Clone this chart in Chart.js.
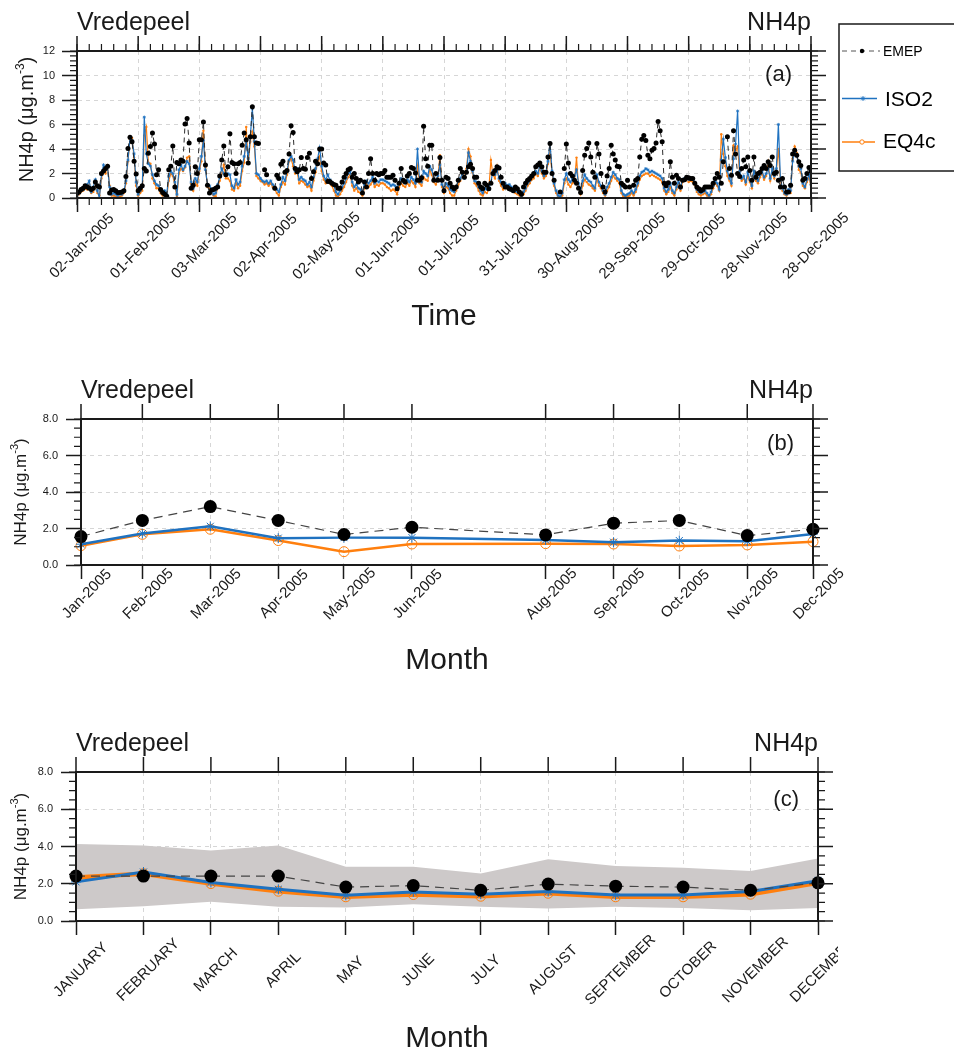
<!DOCTYPE html>
<html lang="en">
<head>
<meta charset="UTF-8" />
<title>Vredepeel NH4p</title>
<script src="https://cdn.jsdelivr.net/npm/chart.js"></script>
<style>
  body { margin: 0; background: #fff; }
  #page { position: relative; width: 954px; height: 1052px; overflow: hidden; background: #fff; }
  canvas { position: absolute; left: 0; }
</style>
</head>
<body>
<div id="page">
  <canvas id="chartA" width="954" height="350" style="top:0"></canvas>
  <canvas id="chartB" width="954" height="340" style="top:350px"></canvas>
  <canvas id="chartC" width="838" height="362" style="top:690px"></canvas>
</div>

<script>
// ---- daily values, 02-Jan-2005 .. 28-Dec-2005 (one row = 10 days)
const emepDaily = [
  0.4, 0.5, 0.7, 0.8, 1.0, 0.9, 0.8, 0.7, 0.8, 1.3,
  1.0, 0.9, 2.0, 2.2, 2.4, 2.6, 0.4, 0.65, 0.7, 0.6,
  0.45, 0.45, 0.5, 0.6, 1.75, 4.05, 4.95, 4.6, 3.0, 1.95,
  0.6, 0.8, 1.0, 2.4, 2.2, 3.65, 4.2, 5.3, 4.4, 1.9,
  2.3, 0.7, 0.45, 0.3, 0.15, 2.3, 2.6, 4.25, 0.9, 2.9,
  2.8, 3.1, 3.0, 6.05, 6.5, 4.5, 0.8, 1.05, 2.55, 2.0,
  4.75, 4.75, 6.2, 2.7, 1.05, 0.4, 0.65, 0.7, 0.8, 0.9,
  1.8, 3.1, 4.25, 1.9, 2.55, 5.25, 2.9, 2.8, 2.0, 2.8,
  2.9, 4.3, 5.3, 4.75, 2.85, 5.0, 7.45, 5.0, 4.5, 4.45,
  null, null, 2.3, 1.9, null, null, null, 0.8, 1.85, 1.6,
  2.75, 3.0, 2.1, 2.25, 3.6, 5.9, 5.35, 2.4, 2.15, 2.3,
  3.3, 2.4, 2.35, 3.3, 3.65, 1.6, 2.15, 3.0, 2.8, 4.0,
  4.0, 2.85, 2.7, 1.35, 1.35, 1.2, 1.1, 1.05, 0.8, 0.8,
  1.3, 1.7, 2.0, 2.3, 2.4, 1.7, 2.0, 1.6, 1.3, 1.45,
  0.4, 1.3, 0.9, 2.0, 3.2, 2.0, 1.45, 2.0, 1.9, 2.0,
  2.0, 2.25, 1.7, 1.7, 1.7, 1.85, 1.45, 0.75, 1.2, 2.4,
  1.45, 1.3, 1.8, 2.0, 2.5, 2.4, 2.05, 1.45, 1.45, 1.65,
  5.85, 3.2, 2.6, 4.3, 4.3, 1.45, 2.0, 1.45, 3.3, 1.45,
  0.6, 1.7, 1.6, 1.2, 0.9, 0.75, 0.9, 1.45, 2.4, 2.1,
  1.7, 2.1, 2.55, 2.75, 2.4, 1.7, 1.7, 1.2, 0.9, 0.75,
  1.2, 1.05, 0.75, 1.2, 2.0, 2.25, 2.55, 2.45, 1.7, 1.2,
  0.9, 0.9, 0.75, 0.7, 0.6, 0.9, 0.75, 0.5, 0.3, 0.9,
  1.2, 1.45, 1.6, 1.8, 2.0, 2.55, 2.7, 2.85, 2.55, 2.1,
  2.1, 3.35, 4.45, 2.0, 1.45, null, null, 0.5, null, 2.4,
  4.4, 2.85, 2.0, 1.8, 1.45, 1.2, 0.8, 0.45, 2.25, 3.5,
  4.05, 4.5, 3.35, 2.1, 1.7, 4.45, 3.6, 2.0, 0.9, 0.5,
  1.8, 2.4, 4.3, 3.6, 3.1, 2.6, 2.55, 1.2, 1.05, 0.9,
  1.45, 0.9, null, 1.05, 1.45, 1.6, 3.35, 4.8, 5.1, 4.7,
  3.5, 3.2, 3.9, 4.05, 4.5, 6.25, 5.5, 4.6, 1.2, 1.0,
  1.25, 2.95, 1.7, 1.2, 1.85, 1.6, 0.9, 1.45, 1.5, 1.7,
  1.65, 1.6, 1.6, 1.2, 0.9, 0.75, 0.6, 0.7, 0.9, 0.9,
  0.9, 0.9, 1.2, 1.6, 2.0, 1.7, 1.2, 2.95, null, 5.0,
  2.4, 1.85, 5.5, 3.6, 2.0, 1.75, 2.4, 3.1, 2.55, 3.35,
  2.25, 1.45, 3.35, 1.7, 2.0, 2.1, 2.4, 2.65, 2.4, 2.95,
  2.65, 3.35, 2.0, 2.1, 1.45, 0.9, 1.6, 0.9, 0.5, 0.5,
  1.05, 3.6, 3.9, 3.5, 2.95, 2.65, 1.45, 1.6, 2.0, 2.5, 2.2
];
const iso2Daily = [
  0.2, 0.4, 0.6, 0.7, 0.9, 1.1, 1.4, 0.5, 0.9, 1.5,
  0.6, 0.0, 1.9, 2.7, 2.3, 2.5, 0.9, 0.3, 0.4, 0.3,
  0.2, 0.3, 0.3, 0.5, 1.4, 3.1, 4.9, 4.7, 3.6, 1.3,
  0.3, 0.6, 0.9, 6.6, 3.6, 2.8, 2.6, 1.9, 1.4, 1.1,
  1.0, 0.7, 0.4, 0.6, 0.3, 1.8, 2.2, 2.0, 1.3, 0.3,
  2.3, 2.7, 2.3, 2.6, 3.0, 2.8, 1.3, 0.8, 1.6, 1.3,
  2.4, 3.4, 4.7, 2.3, 1.1, 1.0, 0.7, 0.3, 0.4, 1.1,
  1.7, 2.4, 2.0, 1.9, 2.0, 1.9, 1.0, 0.8, 1.5, 1.1,
  1.3, 2.6, 3.4, 4.6, 3.2, 5.0, 7.3, 4.6, 2.0, 1.9,
  1.6, 1.4, 1.3, 1.4, 1.2, 1.4, 1.1, 0.9, 0.7, 0.5,
  1.1, 1.7, 1.4, 2.2, 3.1, 3.4, 3.1, 2.2, 2.4, 1.5,
  1.7, 1.5, 1.4, 1.1, 1.3, 0.9, 1.7, 2.4, 3.2, 4.1,
  2.6, 1.8, 1.5, 1.9, 1.5, 1.3, 1.0, 0.5, 0.3, 0.6,
  0.9, 1.2, 1.6, 2.0, 2.2, 1.3, 0.9, 1.1, 0.8, 0.7,
  0.4, 1.1, 1.4, 1.2, 1.4, 1.7, 1.2, 1.4, 1.3, 1.5,
  1.5, 1.4, 1.3, 1.2, 1.0, 1.1, 1.0, 0.8, 1.3, 1.6,
  1.3, 1.2, 1.5, 1.3, 1.7, 1.5, 1.2, 4.0, 1.5, 1.3,
  2.2, 2.0, 1.8, 2.6, 2.3, 1.6, 1.4, 1.8, 2.7, 1.1,
  0.6, 1.2, 1.0, 0.7, 0.6, 0.5, 0.9, 1.4, 1.6, 2.0,
  1.6, 2.1, 3.7, 3.0, 2.2, 1.4, 1.3, 0.9, 0.6, 0.4,
  0.8, 0.7, 0.9, 1.3, 2.2, 1.9, 2.3, 1.6, 1.3, 1.0,
  1.2, 1.0, 1.1, 0.9, 0.7, 0.6, 0.5, 0.4, 0.2, 0.5,
  0.8, 1.2, 1.4, 1.7, 1.9, 2.2, 2.0, 2.6, 2.2, 1.8,
  2.0, 3.0, 4.5, 2.2, 1.2, 0.6, 0.2, 0.1, 0.4, 1.5,
  2.0, 1.5, 1.3, 1.6, 1.8, 2.3, 1.2, 0.5, 1.4, 1.9,
  1.6, 1.4, 1.3, 1.0, 0.8, 1.9, 1.3, 1.0, 0.6, 0.3,
  0.9, 1.2, 1.7, 2.1, 1.9, 1.6, 1.5, 0.6, 0.3, 0.2,
  0.3, 0.4, 0.6, 0.4, 0.7, 1.2, 1.8, 2.1, 2.2, 2.4,
  2.3, 2.1, 2.2, 2.1, 2.0, 1.9, 1.8, 1.6, 0.8, 0.5,
  0.7, 1.2, 0.6, 0.4, 0.9, 1.3, 0.8, 1.5, 1.6, 1.7,
  1.5, 1.6, 1.5, 1.3, 0.7, 0.5, 0.4, 0.5, 0.6, 0.4,
  0.2, 0.5, 1.0, 1.4, 1.2, 0.7, 3.1, 4.8, 3.3, 2.2,
  1.6, 1.2, 3.2, 4.4, 7.1, 2.2, 1.6, 1.8, 1.3, 2.1,
  1.5, 1.0, 2.2, 1.6, 1.4, 1.9, 2.2, 1.7, 2.0, 2.4,
  1.6, 2.4, 1.8, 2.4, 6.0, 1.6, 0.8, 0.4, 0.3, 0.7,
  0.6, 3.0, 3.8, 3.5, 2.6, 2.4, 1.2, 0.9, 1.5, 1.9, 1.1
];
const eq4cDaily = [
  0.1, 0.3, 0.5, 0.6, 0.8, 0.7, 1.1, 0.4, 0.5, 1.2,
  0.4, 0.2, 1.6, 2.3, 2.0, 2.6, 1.0, 0.2, 0.2, 0.1,
  0.1, 0.1, 0.2, 0.4, 1.2, 3.0, 4.8, 4.9, 3.3, 1.0,
  0.2, 0.4, 0.6, 5.1, 5.8, 2.9, 2.8, 1.6, 1.2, 0.8,
  0.8, 0.4, 0.2, 0.3, 0.1, 1.4, 2.0, 1.8, 1.0, 0.1,
  2.0, 2.4, 2.2, 2.5, 3.3, 3.4, 1.2, 0.6, 1.3, 1.0,
  2.2, 3.0, 5.5, 2.5, 0.9, 0.8, 0.5, 0.2, 0.1, 0.9,
  1.4, 2.0, 2.7, 1.6, 1.6, 1.4, 0.7, 0.6, 1.2, 0.8,
  1.0, 2.2, 2.9, 5.8, 2.8, 4.6, 5.4, 4.2, 1.8, 1.6,
  1.4, 1.3, 1.1, 1.2, 1.0, 1.2, 0.9, 0.7, 0.4, 0.2,
  0.9, 1.3, 1.1, 1.9, 3.0, 3.2, 2.6, 2.0, 2.1, 1.2,
  1.4, 1.3, 1.1, 0.9, 1.0, 0.6, 1.4, 2.1, 2.9, 3.4,
  2.2, 1.5, 1.2, 1.5, 1.2, 1.0, 0.6, 0.2, 0.1, 0.3,
  0.6, 0.9, 1.3, 1.7, 1.9, 1.0, 0.6, 0.8, 0.5, 0.4,
  0.2, 0.8, 1.1, 0.9, 1.1, 1.4, 0.9, 1.1, 1.0, 1.2,
  1.2, 1.1, 0.9, 0.8, 0.6, 0.7, 0.6, 0.3, 0.9, 1.2,
  1.0, 0.9, 1.2, 1.0, 1.4, 1.2, 0.9, 2.6, 1.2, 1.0,
  1.7, 1.5, 1.4, 2.3, 1.9, 1.3, 1.1, 1.6, 3.5, 0.9,
  0.4, 0.9, 0.8, 0.4, 0.2, 0.2, 0.6, 1.1, 1.4, 1.9,
  1.7, 2.4, 4.0, 3.4, 2.1, 1.2, 1.0, 0.6, 0.3, 0.2,
  0.5, 0.4, 0.7, 3.1, 1.9, 1.6, 2.6, 1.4, 1.0, 0.7,
  0.9, 0.8, 0.9, 0.7, 0.5, 0.4, 0.3, 0.2, 0.1, 0.3,
  0.6, 1.0, 1.2, 1.5, 1.6, 2.0, 1.8, 2.4, 2.0, 1.6,
  1.8, 2.8, 3.8, 2.0, 1.0, 0.4, 0.1, 0.1, 0.2, 1.2,
  1.6, 1.1, 0.9, 1.2, 1.4, 3.3, 0.9, 0.3, 1.0, 1.5,
  1.3, 1.1, 1.0, 0.8, 0.6, 1.6, 1.0, 0.8, 0.4, 0.2,
  0.6, 0.9, 1.4, 1.8, 1.6, 1.4, 1.2, 0.4, 0.1, 0.1,
  0.1, 0.2, 0.4, 0.2, 0.5, 1.0, 1.5, 1.8, 1.9, 2.0,
  2.0, 1.8, 1.9, 1.8, 1.7, 1.6, 1.5, 1.3, 0.6, 0.3,
  0.5, 0.9, 0.4, 0.2, 0.7, 1.1, 0.6, 1.3, 1.4, 1.5,
  1.3, 1.4, 1.3, 1.1, 0.5, 0.3, 0.2, 0.3, 0.4, 0.2,
  0.1, 0.3, 0.8, 1.2, 1.0, 0.6, 5.2, 3.6, 2.6, 1.8,
  1.4, 1.0, 4.3, 3.9, 4.2, 2.0, 1.4, 1.6, 1.1, 1.8,
  1.3, 0.8, 2.0, 1.4, 1.2, 1.7, 2.0, 1.5, 1.8, 2.9,
  1.4, 2.2, 1.6, 2.2, 4.0, 1.4, 0.6, 0.3, 0.2, 0.5,
  0.4, 3.2, 4.2, 3.7, 2.3, 2.1, 1.0, 0.8, 1.3, 1.7, 0.9
];
const dayTickLabels = ['02-Jan-2005', '01-Feb-2005', '03-Mar-2005', '02-Apr-2005', '02-May-2005',
  '01-Jun-2005', '01-Jul-2005', '31-Jul-2005', '30-Aug-2005', '29-Sep-2005', '29-Oct-2005',
  '28-Nov-2005', '28-Dec-2005'];

// ---- monthly means 2005 (no July value), x = day of year
const monthDays = [15, 43, 74, 105, 135, 166, 227, 258, 288, 319, 349];
const monthLabels = ['Jan-2005', 'Feb-2005', 'Mar-2005', 'Apr-2005', 'May-2005', 'Jun-2005',
  'Aug-2005', 'Sep-2005', 'Oct-2005', 'Nov-2005', 'Dec-2005'];
const emepMonthly = [1.56, 2.44, 3.2, 2.44, 1.67, 2.07, 1.65, 2.29, 2.44, 1.61, 1.96];
const iso2Monthly = [1.14, 1.72, 2.12, 1.47, 1.5, 1.5, 1.37, 1.25, 1.34, 1.3, 1.7];
const eq4cMonthly = [1.06, 1.68, 1.96, 1.34, 0.73, 1.15, 1.17, 1.15, 1.04, 1.1, 1.28];

// ---- monthly climatology
const monthNames = ['JANUARY', 'FEBRUARY', 'MARCH', 'APRIL', 'MAY', 'JUNE', 'JULY', 'AUGUST',
  'SEPTEMBER', 'OCTOBER', 'NOVEMBER', 'DECEMBER'];
const emepClim = [2.41, 2.41, 2.41, 2.41, 1.82, 1.9, 1.65, 1.98, 1.87, 1.82, 1.65, 2.05];
const iso2Clim = [2.1, 2.63, 2.07, 1.7, 1.38, 1.56, 1.44, 1.58, 1.4, 1.4, 1.58, 2.16];
const eq4cClim = [2.34, 2.54, 2.01, 1.6, 1.3, 1.42, 1.33, 1.49, 1.3, 1.3, 1.44, 2.05];
const bandHigh = [4.14, 4.06, 3.78, 4.06, 2.91, 2.91, 2.55, 3.31, 2.95, 2.86, 2.68, 3.35];
const bandLow = [0.63, 0.79, 1.03, 0.76, 0.72, 0.9, 0.76, 0.67, 0.76, 0.7, 0.58, 0.7];

const FONT = '"Liberation Sans", Arial, Helvetica, sans-serif';
const INK = '#1a1a1a';
const BLUE = '#1f72c0';
const ORANGE = '#ff7f0e';
const GRID = '#d6d6d6';
const BAND = '#cdc9c9';

Chart.defaults.font.family = FONT;
Chart.defaults.color = INK;

function drawYTitle(ctx, x, y, size) {
  const main = 'NH4p (\u03bcg.m', sup = '-3', tail = ')';
  const supSize = Math.round(size * 0.62);
  ctx.save();
  ctx.translate(x, y);
  ctx.rotate(-Math.PI / 2);
  ctx.textAlign = 'left';
  ctx.textBaseline = 'alphabetic';
  ctx.font = size + 'px ' + FONT;
  const w1 = ctx.measureText(main).width;
  const w3 = ctx.measureText(tail).width;
  ctx.font = supSize + 'px ' + FONT;
  const w2 = ctx.measureText(sup).width;
  const sx = -(w1 + w2 + w3) / 2;
  ctx.font = size + 'px ' + FONT;
  ctx.fillText(main, sx, 0);
  ctx.fillText(tail, sx + w1 + w2, 0);
  ctx.font = supSize + 'px ' + FONT;
  ctx.fillText(sup, sx + w1, -size * 0.45);
  ctx.restore();
}

function drawLegend(ctx) {
  ctx.save();
  ctx.strokeStyle = INK;
  ctx.lineWidth = 1.5;
  ctx.strokeRect(839, 24, 130, 147);
  ctx.textAlign = 'left';
  ctx.textBaseline = 'alphabetic';
  // EMEP
  ctx.strokeStyle = '#555';
  ctx.lineWidth = 1;
  ctx.setLineDash([5, 4]);
  ctx.beginPath(); ctx.moveTo(842, 51); ctx.lineTo(880, 51); ctx.stroke();
  ctx.setLineDash([]);
  ctx.fillStyle = '#000';
  ctx.beginPath(); ctx.arc(862, 51, 2.2, 0, Math.PI * 2); ctx.fill();
  ctx.font = '14px ' + FONT;
  ctx.fillText('EMEP', 883, 56);
  // ISO2
  ctx.strokeStyle = BLUE;
  ctx.lineWidth = 1.5;
  ctx.beginPath(); ctx.moveTo(842, 98.5); ctx.lineTo(877, 98.5); ctx.stroke();
  ctx.lineWidth = 0.9;
  ctx.beginPath();
  for (let k = 0; k < 4; k++) {
    const ang = k * Math.PI / 4;
    ctx.moveTo(863 - 2.5 * Math.cos(ang), 98.5 - 2.5 * Math.sin(ang));
    ctx.lineTo(863 + 2.5 * Math.cos(ang), 98.5 + 2.5 * Math.sin(ang));
  }
  ctx.stroke();
  ctx.font = '21px ' + FONT;
  ctx.fillText('ISO2', 885, 106);
  // EQ4c
  ctx.strokeStyle = ORANGE;
  ctx.lineWidth = 1.5;
  ctx.beginPath(); ctx.moveTo(842, 142); ctx.lineTo(875, 142); ctx.stroke();
  ctx.lineWidth = 1;
  ctx.fillStyle = '#fff';
  ctx.beginPath(); ctx.arc(862, 142, 2.2, 0, Math.PI * 2); ctx.fill(); ctx.stroke();
  ctx.fillStyle = '#000';
  ctx.fillText('EQ4c', 883, 148);
  ctx.restore();
}

const framePlugin = {
  id: 'frame',
  afterDraw(chart, args, o) {
    const ctx = chart.ctx, a = chart.chartArea;
    const xs = chart.scales.x, ys = chart.scales.y;
    ctx.save();
    ctx.strokeStyle = INK;
    // major ticks on top and right
    ctx.lineWidth = 1.5;
    ctx.beginPath();
    xs.ticks.forEach(t => {
      const p = xs.getPixelForValue(t.value);
      ctx.moveTo(p, a.top); ctx.lineTo(p, a.top - 15);
    });
    ys.ticks.forEach(t => {
      const p = ys.getPixelForValue(t.value);
      ctx.moveTo(a.right, p); ctx.lineTo(a.right + 15, p);
    });
    ctx.stroke();
    // minor ticks
    ctx.lineWidth = 1.2;
    ctx.beginPath();
    const ny = Math.round((ys.max - ys.min) / o.yMinor);
    for (let k = 0; k <= ny; k++) {
      const p = ys.getPixelForValue(ys.min + k * o.yMinor);
      ctx.moveTo(a.left - 7, p); ctx.lineTo(a.left, p);
      ctx.moveTo(a.right, p); ctx.lineTo(a.right + 7, p);
    }
    if (o.xMinor) {
      const nx = Math.round((xs.max - xs.min) / o.xMinor);
      for (let k = 0; k <= nx; k++) {
        const p = xs.getPixelForValue(xs.min + k * o.xMinor);
        ctx.moveTo(p, a.top - 7); ctx.lineTo(p, a.top);
        ctx.moveTo(p, a.bottom); ctx.lineTo(p, a.bottom + 7);
      }
    }
    ctx.stroke();
    ctx.lineWidth = 2;
    ctx.strokeRect(a.left, a.top, a.right - a.left, a.bottom - a.top);

    // rotated x tick labels
    ctx.fillStyle = INK;
    ctx.font = o.xFont + 'px ' + FONT;
    ctx.textAlign = 'center';
    ctx.textBaseline = 'middle';
    xs.ticks.forEach((t, i) => {
      const p = xs.getPixelForValue(t.value);
      ctx.save();
      ctx.translate(p + o.xDx, a.bottom + o.xDy);
      ctx.rotate(-Math.PI / 4);
      ctx.fillText(o.xLabels[i], 0, 0);
      ctx.restore();
    });

    // station / species / panel letter
    ctx.textBaseline = 'alphabetic';
    ctx.font = '25px ' + FONT;
    ctx.textAlign = 'left';
    ctx.fillText('Vredepeel', a.left, a.top - 21);
    ctx.textAlign = 'right';
    ctx.fillText('NH4p', a.right, a.top - 21);
    ctx.font = '22px ' + FONT;
    ctx.fillText(o.letter, a.right - 19, a.top + o.letterDy);

    // axis titles
    ctx.font = '30px ' + FONT;
    ctx.textAlign = 'center';
    ctx.fillText(o.xTitle, (a.left + a.right) / 2, o.xTitleY);
    drawYTitle(ctx, o.yTitleX, (a.top + a.bottom) / 2 + o.yTitleDy, o.yTitleSize);

    if (o.legend) drawLegend(ctx);
    ctx.restore();
  }
};

function axisX(extra) {
  return Object.assign({
    grid: { color: GRID, lineWidth: 1, tickColor: INK, tickLength: 14, tickWidth: 1.5 },
    border: { color: INK, width: 2, dash: [4, 4] },
    afterFit: s => { s.height = 20; }
  }, extra);
}
function axisY(extra) {
  return Object.assign({
    grid: { color: GRID, lineWidth: 1, tickColor: INK, tickLength: 15, tickWidth: 1.5 },
    border: { color: INK, width: 2, dash: [4, 4] },
    afterFit: s => { s.width = 60; }
  }, extra);
}

// ---- (a) daily series
new Chart(document.getElementById('chartA'), {
  type: 'line',
  data: {
    datasets: [
      { label: 'EMEP', data: emepDaily.map((v, i) => ({ x: i, y: v })),
        borderColor: '#2b2b2b', borderWidth: 1, borderDash: [5, 4],
        pointRadius: 2.5, pointBackgroundColor: '#000', pointBorderWidth: 0 },
      { label: 'ISO2', data: iso2Daily.map((v, i) => ({ x: i, y: v })),
        borderColor: BLUE, borderWidth: 1.2, pointStyle: 'star', pointRadius: 1.6,
        pointBorderColor: BLUE, pointBorderWidth: 0.8 },
      { label: 'EQ4c', data: eq4cDaily.map((v, i) => ({ x: i, y: v })),
        borderColor: ORANGE, borderWidth: 1.2, pointRadius: 1.2,
        pointBackgroundColor: ORANGE, pointBorderWidth: 0 }
    ]
  },
  options: {
    responsive: false,
    animation: false,
    layout: { padding: { left: 17, right: 143, top: 51, bottom: 132 } },
    plugins: {
      legend: { display: false },
      tooltip: { enabled: false },
      frame: { yMinor: 0.4, xMinor: 6, xFont: 15, xDx: 5, xDy: 48, xLabels: dayTickLabels,
        letter: '(a)', letterDy: 30, xTitle: 'Time', xTitleY: 325,
        yTitleX: 33, yTitleDy: -5, yTitleSize: 20, legend: true }
    },
    scales: {
      x: axisX({ type: 'linear', min: 0, max: 360, ticks: { stepSize: 30, display: false } }),
      y: axisY({ min: 0, max: 12, ticks: { stepSize: 2, padding: 7, color: INK, font: { size: 11 } } })
    }
  },
  plugins: [framePlugin]
});

// ---- (b) monthly means
new Chart(document.getElementById('chartB'), {
  type: 'line',
  data: {
    datasets: [
      { label: 'EMEP', data: emepMonthly.map((v, i) => ({ x: monthDays[i], y: v })),
        borderColor: '#444', borderWidth: 1.2, borderDash: [9, 6], clip: false,
        pointRadius: 6.5, pointBackgroundColor: '#000', pointBorderWidth: 0 },
      { label: 'ISO2', data: iso2Monthly.map((v, i) => ({ x: monthDays[i], y: v })),
        borderColor: BLUE, borderWidth: 2.5, pointStyle: 'star', pointRadius: 5, clip: false,
        pointBorderColor: BLUE, pointBorderWidth: 1 },
      { label: 'EQ4c', data: eq4cMonthly.map((v, i) => ({ x: monthDays[i], y: v })),
        borderColor: ORANGE, borderWidth: 2.5, pointRadius: 5, clip: false,
        pointBackgroundColor: 'rgba(0,0,0,0)', pointBorderColor: ORANGE, pointBorderWidth: 1 }
    ]
  },
  options: {
    responsive: false,
    animation: false,
    layout: { padding: { left: 21, right: 141, top: 69, bottom: 105 } },
    plugins: {
      legend: { display: false },
      tooltip: { enabled: false },
      frame: { yMinor: 0.5, xFont: 15, xDx: 6, xDy: 29, xLabels: monthLabels,
        letter: '(b)', letterDy: 31, xTitle: 'Month', xTitleY: 319,
        yTitleX: 26, yTitleDy: 0, yTitleSize: 17 }
    },
    scales: {
      x: axisX({ type: 'linear', min: 15, max: 349, ticks: { display: false },
        afterBuildTicks: s => { s.ticks = monthDays.map(v => ({ value: v })); } }),
      y: axisY({ min: 0, max: 8, ticks: { stepSize: 2, padding: 8, color: INK, font: { size: 11 },
        callback: v => v.toFixed(1) } })
    }
  },
  plugins: [framePlugin]
});

// ---- (c) monthly climatology with spread band
new Chart(document.getElementById('chartC'), {
  type: 'line',
  data: {
    labels: monthNames,
    datasets: [
      { label: 'EMEP', data: emepClim, borderColor: '#444', borderWidth: 1.2, borderDash: [9, 6],
        clip: false, pointRadius: 6.5, pointBackgroundColor: '#000', pointBorderWidth: 0 },
      { label: 'ISO2', data: iso2Clim, borderColor: BLUE, borderWidth: 3, pointStyle: 'star',
        pointRadius: 5, clip: false, pointBorderColor: BLUE, pointBorderWidth: 1 },
      { label: 'EQ4c', data: eq4cClim, borderColor: ORANGE, borderWidth: 4.5, pointRadius: 5,
        clip: false, pointBackgroundColor: 'rgba(0,0,0,0)', pointBorderColor: ORANGE, pointBorderWidth: 1 },
      { label: 'low', data: bandLow, borderWidth: 0, pointRadius: 0, fill: false },
      { label: 'high', data: bandHigh, borderWidth: 0, pointRadius: 0, fill: '-1', backgroundColor: BAND }
    ]
  },
  options: {
    responsive: false,
    animation: false,
    layout: { padding: { left: 16, right: 20, top: 82, bottom: 111 } },
    plugins: {
      legend: { display: false },
      tooltip: { enabled: false },
      frame: { yMinor: 0.5, xFont: 15, xDx: 5, xDy: 49, xLabels: monthNames,
        letter: '(c)', letterDy: 34, xTitle: 'Month', xTitleY: 357,
        yTitleX: 26, yTitleDy: 0, yTitleSize: 17 }
    },
    scales: {
      x: axisX({ type: 'category', offset: false, ticks: { display: false },
        grid: { color: GRID, lineWidth: 1, tickColor: INK, tickLength: 14, tickWidth: 1.5, offset: false } }),
      y: axisY({ min: 0, max: 8, ticks: { stepSize: 2, padding: 8, color: INK, font: { size: 11 },
        callback: v => v.toFixed(1) } })
    }
  },
  plugins: [framePlugin]
});
</script>
</body>
</html>
